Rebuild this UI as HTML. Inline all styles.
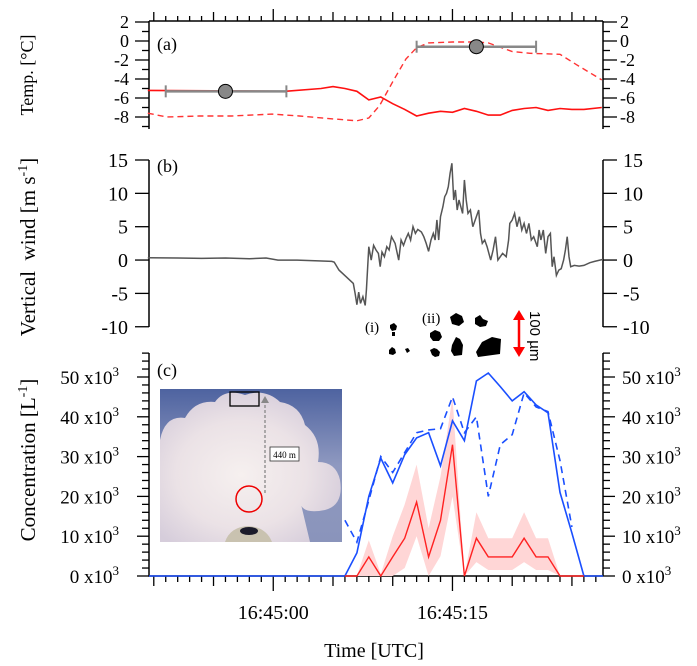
<!DOCTYPE html>
<html><head><meta charset="utf-8"><style>
html,body{margin:0;padding:0;background:#fff;}
svg{display:block;font-family:"Liberation Serif",serif;}
</style></head><body>
<svg id="fig" width="697" height="666" viewBox="0 0 697 666" xmlns="http://www.w3.org/2000/svg">
<defs>
<linearGradient id="sky" x1="0" y1="0" x2="0" y2="1">
<stop offset="0" stop-color="#4e63a0"/><stop offset="0.5" stop-color="#8f99c0"/><stop offset="1" stop-color="#8a94bb"/>
</linearGradient>
<radialGradient id="cloud" cx="0.45" cy="0.55" r="0.6">
<stop offset="0" stop-color="#f6f0ef"/><stop offset="0.6" stop-color="#ebe2e6"/><stop offset="1" stop-color="#d6cddb"/>
</radialGradient>
</defs>
<g id="gA"></g>
<g id="gB"></g>
<g id="gC"></g>
<g id="photo">
<rect x="160" y="389" width="182" height="153" fill="url(#sky)"/>
<path d="M160,542 L160,440 Q165,415 185,418 Q195,400 215,402 Q225,388 245,395 Q265,388 280,402 Q300,405 305,425 Q322,438 318,462 Q336,462 340,480 Q344,505 325,510 Q300,515 300,500 L310,542 Z" fill="url(#cloud)"/>
<path d="M225,542 Q230,527 248,526 Q266,527 272,542 Z" fill="#c9c2b0"/>
<ellipse cx="249" cy="531" rx="9" ry="4" fill="#1b1b2a"/>
<rect x="230" y="392" width="29" height="14" fill="none" stroke="#000" stroke-width="1.3"/>
<line x1="265" y1="493" x2="265" y2="401" stroke="#888" stroke-width="1.3" stroke-dasharray="3,2"/>
<polygon points="261,403 269,403 265,396" fill="#888"/>
<rect x="270" y="447" width="29" height="14" fill="#fff" stroke="#333" stroke-width="0.8"/>
<text x="284.5" y="458" font-size="9" text-anchor="middle">440 m</text>
<ellipse cx="249" cy="499" rx="13" ry="13" fill="none" stroke="#e00" stroke-width="1.5"/>
</g>
<g id="crystals">
<text x="365" y="332" font-size="15">(i)</text>
<text x="422" y="323" font-size="15">(ii)</text>
<path d="M390,325 l4,-2 3,3 -1,4 -4,1 -2,-3z M392,332 l3,0 0,4 -3,0z" fill="#000"/>
<path d="M389,350 l3,-3 3,2 1,4 -3,2 -4,-1z M405,349 l3,-1 2,3 -3,2z" fill="#000"/>
<path d="M430,333 l5,-3 5,2 2,5 -3,4 -6,0 -3,-4z" fill="#000"/>
<path d="M430,350 l4,-2 3,1 3,3 -1,4 -4,1 -3,-2z" fill="#000"/>
<path d="M450,317 l6,-4 6,3 2,6 -5,4 -7,-2z" fill="#000"/>
<path d="M475,318 l5,-3 3,4 5,2 -2,5 -6,1 -5,-3z" fill="#000"/>
<path d="M452,345 l4,-8 4,2 3,6 -1,10 -8,1 -3,-5z" fill="#000"/>
<path d="M476,352 l6,-10 10,-5 9,2 -1,15 -22,3z" fill="#000"/>
<line x1="519" y1="318" x2="519" y2="349" stroke="#f00" stroke-width="2.5"/>
<polygon points="513,320 525,320 519,310" fill="#f00"/>
<polygon points="513,347 525,347 519,357" fill="#f00"/>
<text x="0" y="0" font-size="15" transform="translate(530,311) rotate(90)" font-family="Liberation Sans, sans-serif">100 µm</text>
</g>
<text x="374" y="657" font-size="20" text-anchor="middle">Time [UTC]</text>
</svg>
<script>
// ---------- data ----------
// time in seconds relative to 16:45:00
const xTickLabels = ["16:45:00","16:45:15"];
const xTickTimes = [0,15];
// panel a: temperature
const tempSolidT = [-10.5,1,4,5,6,7,8,9,10,11,12,13,14,15,16,17,18,19,20,21,22,23,24,25,26,27.5];
const tempSolidV = [-5.2,-5.3,-5.0,-4.8,-5.0,-5.3,-6.2,-5.9,-6.6,-7.2,-7.9,-7.6,-7.4,-7.5,-7.1,-7.4,-7.8,-7.8,-7.3,-7.1,-7.0,-7.3,-7.1,-7.2,-7.2,-7.0];
const tempDashT = [-10.5,-8.9,-6.2,-3.5,-0.1,2.2,5,7,8,8.9,10,11.1,12,13,15,17,18,20,21.5,24,25.4,27.5];
const tempDashV = [-7.6,-8.0,-7.9,-7.9,-7.7,-7.9,-8.2,-8.4,-8.1,-6.8,-4.3,-1.9,-0.7,-0.2,-0.1,-0.1,-0.2,-1.1,-1.3,-1.4,-2.5,-4.1];
const errT = [-4.0,17.0];
const errTlo = [-9.0,12.0];
const errThi = [1.1,22.0];
const errV = [-5.3,-0.6];
const errVsd = [0,0.35];
// panel b: vertical wind
const windT = [-10.5,-8,-6,-4,-2,-0.6,0.4,2,3.5,4.9,5.1,5.5,6.1,6.4,6.7,6.85,7.0,7.15,7.3,7.5,7.7,7.8,8.0,8.2,8.4,8.6,8.8,8.95,9.1,9.3,9.5,9.7,9.9,10.2,10.5,10.7,10.9,11.1,11.3,11.5,11.7,11.9,12.1,12.4,12.6,12.8,13.0,13.2,13.4,13.55,13.7,13.85,14.0,14.2,14.35,14.5,14.65,14.8,14.95,15.1,15.25,15.4,15.55,15.7,15.85,16.0,16.15,16.3,16.5,16.7,16.9,17.2,17.35,17.5,17.7,17.9,18.05,18.2,18.4,18.6,18.8,19.0,19.2,19.5,19.7,19.8,20.0,20.2,20.4,20.6,20.8,21.0,21.2,21.4,21.6,21.8,22.0,22.1,22.25,22.4,22.6,22.8,23.0,23.2,23.35,23.5,23.7,23.9,24.1,24.3,24.45,24.6,24.75,24.9,25.2,25.6,26.0,26.5,26.9,27.6];
const windV = [0.35,0.3,0.25,0.3,0.2,0.3,0.0,0.0,-0.1,-0.2,-0.3,-1.5,-2.5,-3.0,-3.5,-5.0,-6.7,-4.8,-6.5,-5.5,-6.8,-4.5,2.0,0.0,2.2,1.5,1.0,-1.0,1.2,0.5,2.0,1.5,3.5,2.5,0.0,3.0,2.2,3.2,4.0,3.0,5.0,4.0,4.6,4.2,3.5,2.5,1.3,3.0,4.0,3.0,6.0,3.0,6.5,8.0,9.5,10.0,11.0,13.0,14.5,9.0,10.5,7.5,9.0,8.0,7.0,12.0,9.0,7.0,7.5,5.0,6.0,7.5,4.0,2.5,3.0,2.0,1.0,0.0,1.5,3.5,0.0,0.5,1.0,0.5,3.0,5.5,6.0,7.0,5.0,6.5,4.5,5.5,4.0,5.5,3.0,3.5,2.5,2.0,4.5,3.0,4.5,1.0,3.5,4.0,-1.0,0.5,-2.3,-1.5,-1.3,0.0,1.5,3.5,0.5,-1.0,-0.8,-0.9,-0.8,-0.4,-0.2,0.1];
// panel c: concentration (x10^3 L^-1), 1-s samples
const concT = [6,7,8,9,10,11,12,13,14,15,16,17,18,19,20,21,22,23,24,25,26];
const blueSolid = [0,5.8,20,29.6,23.4,30.5,34.7,36,27.7,39,34,49,51,47.6,44,46.3,43,41,21,10.8,0];
const blueDash = [14,8.5,19,30,26,31,36,36.7,37,45,36,40,20,33,35.5,46,42.5,41.3,29,12.3,null];
const redMean = [0,0,4.8,0,4.8,9.5,18.6,4.8,14,33,0,9.5,4.8,4.8,4.8,9.5,4.8,4.8,0,0,0];
const redUpper = [0,0,9,0.5,10,18,28,12,25,45,0,16,9.5,9.5,9.5,16,9.5,9.5,0,0,0];
const redLower = [0,0,0,0,0,2,10,0,5,20,0,3.5,1.5,1.5,1.5,3.5,1.5,1.5,0,0,0];

// ---------- axes ----------
const NS="http://www.w3.org/2000/svg";
const X0=149, X1=603, T0=-10.4, T1=27.6;
function xs(t){return X0+(t-T0)*(X1-X0)/(T1-T0);}
function yA(v){return 22+(2-v)*9.5;}
function yB(v){return 160+(15-v)*6.67;}
function yC(v){return 576-v*3.98;}
function mk(par,tag,attrs){const e=document.createElementNS(NS,tag);for(const k in attrs)e.setAttribute(k,attrs[k]);par.appendChild(e);return e;}
function poly(ts,vs,yf){let p=[];for(let i=0;i<ts.length;i++){if(vs[i]===null)continue;p.push(xs(ts[i]).toFixed(1)+","+yf(vs[i]).toFixed(1));}return p.join(" ");}
const gA=document.getElementById('gA'),gB=document.getElementById('gB'),gC=document.getElementById('gC');

// ===== Panel A =====
let e;
e=mk(gA,'path',{d:`M${X0},21 L${X1},21 M${X0},21 L${X0},129 M${X1},21 L${X1},129`,stroke:'#000','stroke-width':1.5,fill:'none'});


for(let t=-10;t<=27;t++){
  const len=(t%15===0)?12:(t%5===0?9:5);
  e=mk(gA,'line',{x1:xs(t),x2:xs(t),y1:21,y2:21-len,stroke:'#000','stroke-width':1.3});
  
  
}
for(let v=-9;v<=2;v++){
  const maj=(v%2===0);
  const len=maj?14:7;
  mk(gA,'line',{x1:X0-len,x2:X0,y1:yA(v),y2:yA(v),stroke:'#000','stroke-width':1.3});
  mk(gA,'line',{x1:X1,x2:X1+len,y1:yA(v),y2:yA(v),stroke:'#000','stroke-width':1.3});
  if(maj){
    e=mk(gA,'text',{x:129,y:yA(v)+6,'font-size':18,'text-anchor':'end'});e.textContent=v;
    
    
    e=mk(gA,'text',{x:620,y:yA(v)+6,'font-size':18,'text-anchor':'start'});e.textContent=v;
    
    
  }
}
e=mk(gA,'text',{x:157,y:50,'font-size':18});e.textContent='(a)';


e=mk(gA,'text',{x:0,y:0,'font-size':18,'text-anchor':'middle',transform:'translate(33,75) rotate(-90)'});e.textContent='Temp. [°C]';


e=mk(gA,'polyline',{points:poly(tempDashT,tempDashV,yA),fill:'none',stroke:'#ff3333','stroke-width':1.4,'stroke-dasharray':'6,4'});


e=mk(gA,'polyline',{points:poly(tempSolidT,tempSolidV,yA),fill:'none',stroke:'#ff1111','stroke-width':1.6});


for(let i=0;i<errT.length;i++){
  const y=yA(errV[i]);
  mk(gA,'line',{x1:xs(errTlo[i]),x2:xs(errThi[i]),y1:y,y2:y,stroke:'#888','stroke-width':2.5});
  mk(gA,'line',{x1:xs(errTlo[i]),x2:xs(errTlo[i]),y1:y-6,y2:y+6,stroke:'#888','stroke-width':2});
  mk(gA,'line',{x1:xs(errThi[i]),x2:xs(errThi[i]),y1:y-6,y2:y+6,stroke:'#888','stroke-width':2});
  if(errVsd[i]>0){
    const yl=yA(errV[i]-errVsd[i]),yh=yA(errV[i]+errVsd[i]);
    mk(gA,'path',{d:`M${xs(errT[i])-6},${yl}L${xs(errT[i])+6},${yl}M${xs(errT[i])-6},${yh}L${xs(errT[i])+6},${yh}`,stroke:'#666','stroke-width':2});
  }
  e=mk(gA,'circle',{cx:xs(errT[i]),cy:y,r:7,fill:'#888',stroke:'#000','stroke-width':1});
  
  
}

// ===== Panel B =====
e=mk(gB,'path',{d:`M${X0},160 L${X0},327 M${X1},160 L${X1},327`,stroke:'#000','stroke-width':1.5,fill:'none'});


for(let v=-10;v<=15;v+=5){
  mk(gB,'line',{x1:X0-14,x2:X0,y1:yB(v),y2:yB(v),stroke:'#000','stroke-width':1.3});
  mk(gB,'line',{x1:X1,x2:X1+14,y1:yB(v),y2:yB(v),stroke:'#000','stroke-width':1.3});
  e=mk(gB,'text',{x:128,y:yB(v)+7,'font-size':20,'text-anchor':'end'});e.textContent=v;
  
  
  e=mk(gB,'text',{x:623,y:yB(v)+7,'font-size':20,'text-anchor':'start'});e.textContent=v;
  
  
}
e=mk(gB,'text',{x:157,y:172,'font-size':18});e.textContent='(b)';


e=mk(gB,'text',{x:0,y:0,'font-size':21,'text-anchor':'middle',transform:'translate(35,247) rotate(-90)'});
e.innerHTML='Vertical&#160; wind [m s<tspan dy="-8" font-size="14">-1</tspan><tspan dy="8">]</tspan>';


e=mk(gB,'polyline',{points:poly(windT,windV,yB),fill:'none',stroke:'#555','stroke-width':1.5});



// ===== Panel C =====
e=mk(gC,'path',{d:`M${X0},353 L${X0},576 L${X1},576 M${X1},353 L${X1},576`,stroke:'#000','stroke-width':1.5,fill:'none'});


for(let v=0;v<=56;v+=2){
  const maj=(v%10===0);const len=maj?12:7;
  mk(gC,'line',{x1:X0-len,x2:X0,y1:yC(v),y2:yC(v),stroke:'#000','stroke-width':1.3});
  mk(gC,'line',{x1:X1,x2:X1+len,y1:yC(v),y2:yC(v),stroke:'#000','stroke-width':1.3});
  if(maj){
    e=mk(gC,'text',{x:119,y:yC(v)+7,'font-size':19,'text-anchor':'end'});
    e.innerHTML=v+' x10<tspan dy="-8" font-size="13">3</tspan>';
    
    
    e=mk(gC,'text',{x:622,y:yC(v)+7,'font-size':19,'text-anchor':'start'});
    e.innerHTML=v+' x10<tspan dy="-8" font-size="13">3</tspan>';
    
    
  }
}
for(let t=-10;t<=27;t++){
  const len=(t%15===0)?15:(t%5===0?10:6);
  e=mk(gC,'line',{x1:xs(t),x2:xs(t),y1:576,y2:576+len,stroke:'#000','stroke-width':1.3});
  
  
}
for(let i=0;i<xTickLabels.length;i++){
  e=mk(gC,'text',{x:xs(xTickTimes[i]),y:619,'font-size':20,'text-anchor':'middle'});e.textContent=xTickLabels[i];
  
  
}
e=mk(gC,'text',{x:157,y:376,'font-size':18});e.textContent='(c)';


e=mk(gC,'text',{x:0,y:0,'font-size':21,'text-anchor':'middle',transform:'translate(35,460) rotate(-90)'});
e.innerHTML='Concentration [L<tspan dy="-8" font-size="14">-1</tspan><tspan dy="8">]</tspan>';


// shaded band
let band=[];for(let i=0;i<concT.length;i++)band.push(xs(concT[i]).toFixed(1)+","+yC(redUpper[i]).toFixed(1));
for(let i=concT.length-1;i>=0;i--)band.push(xs(concT[i]).toFixed(1)+","+yC(redLower[i]).toFixed(1));
e=mk(gC,'polygon',{points:band.join(" "),fill:'#ffd6d6',stroke:'none'});


e=mk(gC,'line',{x1:X0,x2:xs(concT[0]),y1:yC(0),y2:yC(0),stroke:'#1a4fff','stroke-width':1.6});


e=mk(gC,'line',{x1:xs(concT[concT.length-1]),x2:X1,y1:yC(0),y2:yC(0),stroke:'#1a4fff','stroke-width':1.6});


e=mk(gC,'polyline',{points:poly(concT,blueDash,yC),fill:'none',stroke:'#1a4fff','stroke-width':1.6,'stroke-dasharray':'7,5'});


e=mk(gC,'polyline',{points:poly(concT,blueSolid,yC),fill:'none',stroke:'#1a4fff','stroke-width':1.6});


e=mk(gC,'polyline',{points:poly(concT,redMean,yC),fill:'none',stroke:'#ff2222','stroke-width':1.4});


const svg=document.getElementById('fig');
svg.appendChild(document.getElementById('photo'));
</script>
</body></html>
